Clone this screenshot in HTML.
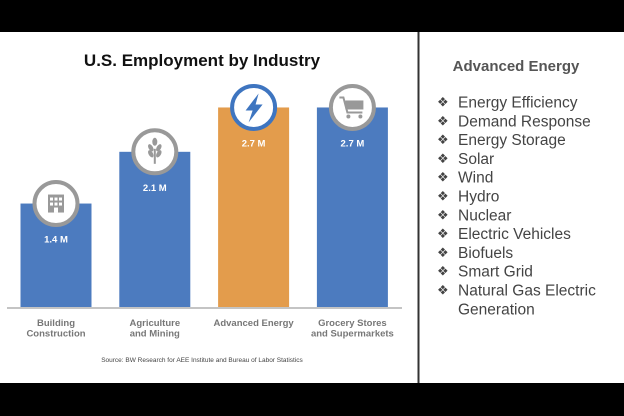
<!DOCTYPE html>
<html><head><meta charset="utf-8"><style>
body{margin:0;width:624px;height:416px;overflow:hidden;background:#000;font-family:"Liberation Sans",sans-serif}
svg{display:block}
</style></head><body>
<svg id="c" width="624" height="416">
<rect x="0" y="32" width="624" height="351" fill="#fff"/>
<line x1="418.5" y1="32" x2="418.5" y2="383" stroke="#333" stroke-width="2"/>
<text x="202" y="66" text-anchor="middle" font-size="17" font-weight="bold" fill="#111">U.S. Employment by Industry</text>
<g id="bars"></g>
<line x1="7" y1="308" x2="402" y2="308" stroke="#888" stroke-width="1"/>
<text x="202" y="362" text-anchor="middle" font-size="6.5" fill="#444">Source: BW Research for AEE Institute and Bureau of Labor Statistics</text>
<text x="516" y="71" text-anchor="middle" font-size="15" font-weight="bold" fill="#555">Advanced Energy</text>
<g id="list"></g>
</svg>
<script>
const categories=[["Building","Construction"],["Agriculture","and Mining"],["Advanced Energy"],["Grocery Stores","and Supermarkets"]];
const values=[1.4,2.1,2.7,2.7];
const valueLabels=["1.4 M","2.1 M","2.7 M","2.7 M"];
const items=["Energy Efficiency","Demand Response","Energy Storage","Solar","Wind","Hydro","Nuclear","Electric Vehicles","Biofuels","Smart Grid","Natural Gas Electric","Generation"];
const NS="http://www.w3.org/2000/svg";
const base=307,scale=73.9,x0=20.5,step=98.8,bw=71;
const yS=v=>base-v*scale;
const g=document.getElementById('bars');
function mk(t,a,p){const e=document.createElementNS(NS,t);for(const k in a)e.setAttribute(k,a[k]);p.appendChild(e);return e;}
const icons=[
 '<rect x="-8" y="-9" width="16" height="18" fill="#999"/><g fill="#fff"><rect x="-6" y="-6" width="3" height="3"/><rect x="-1.5" y="-6" width="3" height="3"/><rect x="3" y="-6" width="3" height="3"/><rect x="-6" y="-1" width="3" height="3"/><rect x="-1.5" y="-1" width="3" height="3"/><rect x="3" y="-1" width="3" height="3"/><rect x="-2" y="4" width="4" height="5"/></g>',
 '<g fill="#999"><rect x="-1" y="-3" width="2" height="15"/><ellipse cx="0" cy="-10" rx="2.5" ry="4"/><ellipse cx="-4" cy="-4" rx="2.2" ry="4" transform="rotate(-30 -4 -4)"/><ellipse cx="4" cy="-4" rx="2.2" ry="4" transform="rotate(30 4 -4)"/><ellipse cx="-4" cy="2" rx="2.2" ry="4" transform="rotate(-30 -4 2)"/><ellipse cx="4" cy="2" rx="2.2" ry="4" transform="rotate(30 4 2)"/></g>',
 '<path d="M5,-14 L-8,3 L-1,3 L-5,15 L9,-3 L2,-3 Z" fill="#3e75c0"/>',
 '<g fill="none" stroke="#999" stroke-width="2"><path d="M-13,-10 L-9,-10 L-5,5 L10,5"/></g><rect x="-7" y="-7" width="18" height="9" fill="#999"/><circle cx="-4" cy="9" r="2" fill="#999"/><circle cx="8" cy="9" r="2" fill="#999"/>'
];
values.forEach((v,i)=>{
 const x=x0+i*step,cx=x+bw/2,yt=yS(v);
 const r=mk('rect',{x:x,y:yt,width:bw,height:base-yt,fill:i==2?'#e39c4c':'#4c7bbf'},g);
 
 
 const c=mk('circle',{cx:cx,cy:yt,r:21.5,fill:'#fff',stroke:i==2?'#3e75c0':'#999','stroke-width':4},g);
 
 
 const ic=mk('g',{transform:'translate('+cx+','+yt+')'},g);ic.innerHTML=icons[i];
 
 
 const t=mk('text',{x:cx,y:yt+39,'text-anchor':'middle','font-size':9.5,'font-weight':'bold',fill:'#fff'},g);t.textContent=valueLabels[i];
 
 
 categories[i].forEach((s,j)=>{
  const l=mk('text',{x:cx,y:326+j*10.5,'text-anchor':'middle','font-size':9.5,'font-weight':'bold',fill:'#777'},g);l.textContent=s;
  
  
 });
});
const L=document.getElementById('list');
items.forEach((s,i)=>{
 const y=107.5+i*18.8;
 if(i<11){const b=mk('text',{x:437,y:y-1,'font-size':13,fill:'#444'},L);b.textContent='❖';
 
 }
 const t=mk('text',{x:458,y:y,'font-size':15.5,fill:'#444'},L);t.textContent=s;
 
 
});
</script>
</body></html>
